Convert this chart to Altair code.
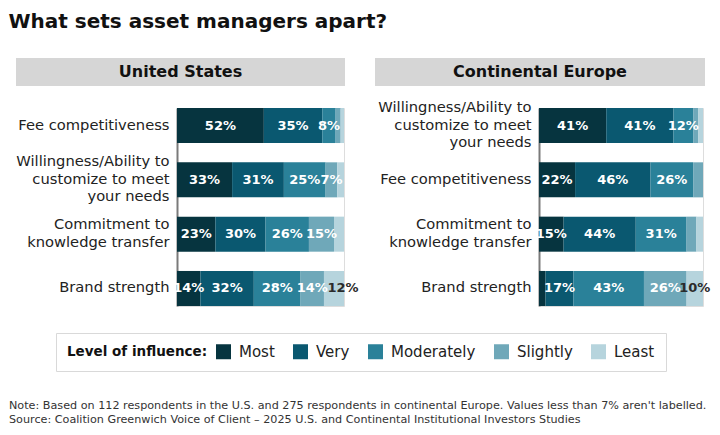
import altair as alt
import pandas as pd

FONT = "DejaVu Sans"

levels = ["Most", "Very", "Moderately", "Slightly", "Least"]
colors = ["#06343f", "#0a5870", "#2a8199", "#6fa8b9", "#b6d4dd"]

us_factors = [
    "Fee competitiveness",
    "Willingness/Ability to|customize to meet|your needs",
    "Commitment to|knowledge transfer",
    "Brand strength",
]
us_most = [52, 33, 23, 14]
us_very = [35, 31, 30, 32]
us_moderately = [8, 25, 26, 28]
us_slightly = [3, 7, 15, 14]
us_least = [2, 4, 6, 12]

eu_factors = [
    "Willingness/Ability to|customize to meet|your needs",
    "Fee competitiveness",
    "Commitment to|knowledge transfer",
    "Brand strength",
]
eu_most = [41, 22, 15, 4]
eu_very = [41, 46, 44, 17]
eu_moderately = [12, 26, 31, 43]
eu_slightly = [3, 6, 6, 26]
eu_least = [3, 0, 4, 10]

title_text = "What sets asset managers apart?"
note_text = (
    "Note: Based on 112 respondents in the U.S. and 275 respondents in continental Europe. "
    "Values less than 7% aren't labelled.|"
    "Source: Coalition Greenwich Voice of Client \u2013 2025 U.S. and Continental Institutional Investors Studies"
)

LINE_H = 17.5


def build(factors, series):
    rows = []
    for li, (lvl, vals) in enumerate(zip(levels, series)):
        for f, v in zip(factors, vals):
            rows.append({"factor": f, "level": lvl, "lvl": li, "value": v})
    return pd.DataFrame(rows)


us_df = build(us_factors, [us_most, us_very, us_moderately, us_slightly, us_least])
eu_df = build(eu_factors, [eu_most, eu_very, eu_moderately, eu_slightly, eu_least])

color = alt.Color(
    "level:N",
    sort=levels,
    scale=alt.Scale(domain=levels, range=colors),
    legend=alt.Legend(
        title="Level of influence:",
        orient="none",
        legendX=-121,
        legendY=225,
        direction="horizontal",
        titleOrient="left",
        titleFontSize=13.5,
        titleFontWeight="bold",
        titleColor="#111",
        titlePadding=8,
        titleBaseline="middle",
        labelFontSize=15,
        labelColor="#222",
        labelOffset=8,
        symbolType="square",
        symbolSize=225,
        symbolStrokeWidth=0,
        columnPadding=18,
        padding=11,
        strokeColor="#d9d9d9",
        fillColor="white",
    ),
)

label_offset = {
    "condition": [
        {"test": "length(split(datum.label, '|')) == 3", "value": -LINE_H},
        {"test": "length(split(datum.label, '|')) == 2", "value": -LINE_H / 2},
    ],
    "value": 0,
}


def panel(df, order, header, hx0, hx1, width, least_dx, extra=None):
    base = alt.Chart(df)
    y = alt.Y(
        "factor:N",
        sort=order,
        title=None,
        scale=alt.Scale(paddingInner=0.355, paddingOuter=0),
        axis=alt.Axis(
            labelExpr="split(datum.label, '|')",
            labelFont=FONT,
            labelFontSize=14.7,
            labelColor="#222",
            labelLineHeight=LINE_H,
            labelBaseline="middle",
            labelOffset=label_offset,
            labelPadding=8,
            labelLimit=300,
            ticks=False,
            domainColor="#7a7a7a",
            domainWidth=2,
        ),
    )
    bars = base.mark_bar().encode(
        x=alt.X("value:Q", stack="zero", scale=alt.Scale(domain=[0, 100]), axis=None),
        y=y,
        color=color,
        order=alt.Order("lvl:Q"),
    )
    stacked = (
        base.transform_stack(
            stack="value",
            groupby=["factor"],
            as_=["x0", "x1"],
            sort=[alt.SortField("lvl", order="ascending")],
        )
        .transform_calculate(mid="(datum.x0 + datum.x1) / 2", lab="datum.value + '%'")
        .transform_filter("datum.value >= 7")
    )
    labels = stacked.transform_filter("datum.level != 'Least'").mark_text(
        font=FONT, fontSize=13, fontWeight="bold", color="white"
    ).encode(x=alt.X("mid:Q"), y=alt.Y("factor:N", sort=order), text="lab:N")
    least = stacked.transform_filter("datum.level == 'Least'").mark_text(
        font=FONT, fontSize=13, fontWeight="bold", color="#2b2b2b", dx=least_dx
    ).encode(x=alt.X("mid:Q"), y=alt.Y("factor:N", sort=order), text="lab:N")

    hdr = alt.Chart(pd.DataFrame({"h": [header]}))
    rect = hdr.mark_rect(color="#d6d6d6").encode(
        x=alt.value(hx0), x2=alt.value(hx1), y=alt.value(-50), y2=alt.value(-22)
    )
    htxt = hdr.mark_text(
        font=FONT, fontSize=16, fontWeight="bold", color="#111", baseline="middle"
    ).encode(x=alt.value((hx0 + hx1) / 2), y=alt.value(-36), text="h:N")

    layers = [rect, htxt, bars, labels, least]
    if extra is not None:
        layers.append(extra)
    return alt.layer(*layers).properties(width=width, height=198)


notes = alt.Chart(pd.DataFrame({"note": [note_text]})).mark_text(
    font=FONT, fontSize=11.2, color="#333", align="left", baseline="alphabetic",
    lineBreak="|", lineHeight=14,
).encode(x=alt.value(-168), y=alt.value(301), text="note:N")

us = panel(us_df, us_factors, "United States", -161, 168, 167, 9, extra=notes)
eu = panel(eu_df, eu_factors, "Continental Europe", -164, 166, 164, 0)

chart = (
    alt.hconcat(us, eu, spacing=195, bounds="flush")
    .properties(
        title=alt.TitleParams(
            text=title_text,
            anchor="start",
            font=FONT,
            fontSize=20,
            fontWeight="bold",
            color="#111",
            offset=26,
        ),
        padding={"left": 0, "top": 3, "right": 0, "bottom": 0},
    )
    .configure_view(stroke=None)
    .configure(font=FONT)
)

chart.save("out.html", embed_options={"renderer": "svg", "actions": False})
